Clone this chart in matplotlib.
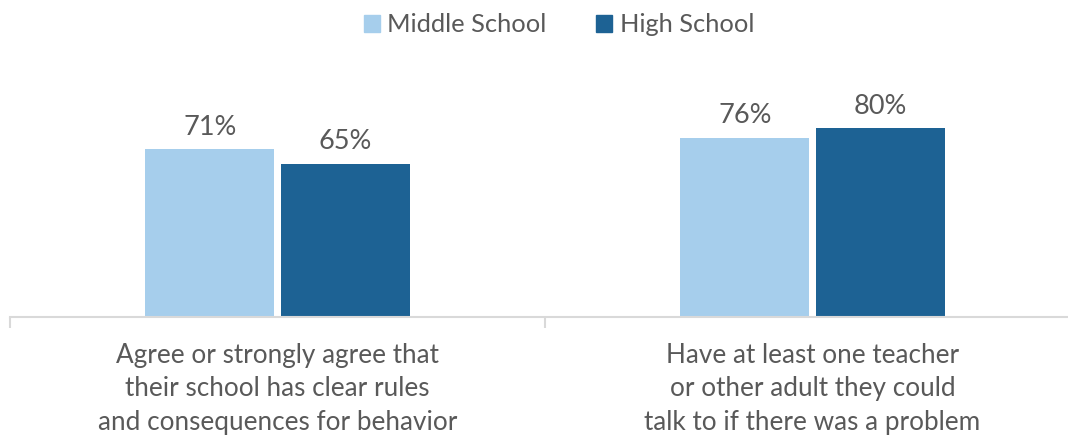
import numpy as np
import matplotlib.pyplot as plt
from matplotlib.patches import Patch

plt.rcParams['font.family'] = ['Lato', 'DejaVu Sans']

categories = ['Agree or strongly agree that\ntheir school has clear rules\nand consequences for behavior',
              'Have at least one teacher\nor other adult they could\ntalk to if there was a problem']
series_names = ['Middle School', 'High School']
middle_school = [71, 76]
high_school = [65, 80]
colors = ['#A6CEEC', '#1D6294']
text_color = '#595959'

fig = plt.figure(figsize=(10.68, 4.4), dpi=100)
ax = fig.add_axes([10 / 1068, (440 - 317) / 440, 1070 / 1068, 236 / 440])

x = np.arange(len(categories))
w = 0.241
off = 0.1266
b1 = ax.bar(x - off, middle_school, w, color=colors[0])
b2 = ax.bar(x + off, high_school, w, color=colors[1])

for bars, vals in [(b1, middle_school), (b2, high_school)]:
    for b, v in zip(bars, vals):
        ax.text(b.get_x() + b.get_width() / 2, v + 4, f'{v}%', ha='center', va='bottom',
                fontsize=19.5, color=text_color)

ax.set_xlim(-0.5, 1.5)
ax.set_ylim(0, 100)
ax.set_yticks([])
for s in ['top', 'right', 'left']:
    ax.spines[s].set_visible(False)
ax.spines['bottom'].set_color('#D9D9D9')
ax.spines['bottom'].set_linewidth(1.5)
ax.set_xticks([-0.5, 0.5, 1.5])
ax.set_xticklabels([])
ax.tick_params(axis='x', length=8, width=1.5, color='#D9D9D9')
for xi, lab in zip(x, categories):
    ax.text(xi, -11, lab, ha='center', va='top', fontsize=18.8, color=text_color,
            linespacing=1.42, transform=ax.transData, clip_on=False)

handles = [Patch(color=c) for c in colors]
fig.legend(handles, series_names, loc='center', bbox_to_anchor=(559 / 1068, 1 - 25 / 440),
           ncol=2, frameon=False, fontsize=18.3, labelcolor=text_color,
           handlelength=0.63, handleheight=0.63, handletextpad=0.3, columnspacing=1.95)

fig.savefig('out.png', dpi=100)
